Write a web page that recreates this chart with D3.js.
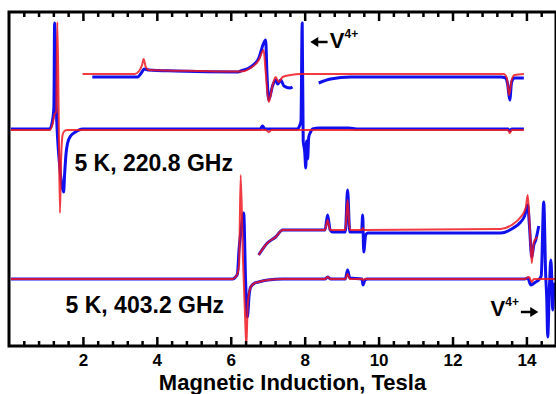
<!DOCTYPE html>
<html>
<head>
<meta charset="utf-8">
<script src="https://cdn.jsdelivr.net/npm/d3@7"></script>
<style>
html, body { margin: 0; padding: 0; background: #fff; }
svg { display: block; font-family: "Liberation Sans", Arial, sans-serif; font-weight: bold; }
</style>
</head>
<body>
<div id="chart"></div>
<script>
// field in Tesla, signal in arbitrary units relative to the trace baseline
// null signal = gap in the trace

// 220.8 GHz, full scale
const exp220Base = [[0.05,0],[1.10,0],[1.17,7],[1.215,22],[1.234,106],[1.28,20],[1.316,-10],[1.367,-35],[1.424,-55],[1.478,-63],[1.505,-45],[1.545,-24],[1.586,-14],[1.667,-7],[1.80,-3],[1.99,0],[6.80,0],[6.86,3],[6.92,0],[7.80,0],[7.86,3],[7.90,8],[7.933,106],[7.96,-12],[8.0,-22],[8.03,-39],[8.05,-12],[8.08,-30],[8.11,-8],[8.16,-3],[8.21,0],[8.40,1],[9.20,1],[9.40,0],[13.50,0],[13.55,-2],[13.60,0],[13.93,0]];
const sim220Base = [[0.05,-1],[1.10,-1],[1.18,5],[1.234,15],[1.276,17],[1.307,107],[1.343,20],[1.378,-84],[1.41,-30],[1.45,-6],[1.50,-2],[1.58,-1],[6.95,-1],[7.03,-3],[7.10,-1],[13.50,-1],[13.55,-4],[13.60,-1],[13.93,-1]];

// 220.8 GHz, expanded
const exp220Zoom = [[2.254,-3],[3.30,-3],[3.48,-3],[3.58,1],[3.66,5],[3.78,4],[4.5,3],[6.2,2],[6.27,3],[6.54,7],[6.76,16],[6.88,30],[6.944,34],[6.98,0],[7.026,-26],[7.13,-12],[7.215,-6],[7.27,-10],[7.35,-6],[7.44,-12],[7.60,-14],[7.67,-13],[7.9,null],[8.38,-9],[8.70,-5],[9.245,-3],[13.30,-3],[13.44,-4],[13.49,-10],[13.548,-26],[13.60,-8],[13.68,-4],[13.93,-4]];
const sim220Zoom = [[1.99,0],[3.40,0],[3.52,3],[3.60,9],[3.643,15],[3.70,7],[3.78,4],[5.19,3],[6.27,2.5],[6.54,6],[6.76,14],[6.89,24],[6.94,4],[7.026,-28],[7.134,-11],[7.215,-3],[7.296,-8],[7.405,-3],[7.62,-1],[7.89,0],[13.385,0],[13.47,-4],[13.53,-21],[13.60,-6],[13.68,-1],[13.93,0]];

// 403.2 GHz, full scale
const exp403Base = [[0.05,0],[6.05,0],[6.13,2],[6.18,5],[6.225,30],[6.27,46],[6.35,66],[6.40,0],[6.449,-38],[6.50,-15],[6.539,-8],[6.65,-4],[6.755,-3],[7.0,-1],[7.40,0],[8.55,0],[8.62,2],[8.70,0],[9.10,0],[9.161,9],[9.22,1],[9.55,0],[9.58,-6],[9.63,-1],[9.70,0],[13.95,0],[14.035,1],[14.12,-6],[14.25,-3],[14.33,-1],[14.40,3],[14.468,77],[14.52,5],[14.55,-20],[14.576,-58],[14.62,-10],[14.66,19],[14.69,-5],[14.71,-31],[14.75,-5],[14.79,-15]];
const sim403Base = [[0.05,0],[6.05,0],[6.13,2],[6.18,5],[6.225,14],[6.268,104],[6.33,20],[6.39,-40],[6.422,-67],[6.46,-25],[6.539,-8],[6.65,-4],[6.755,-3],[7.0,-1],[7.40,0],[8.55,0],[8.62,2],[8.70,0],[9.10,0],[9.161,5],[9.22,0],[9.55,0],[9.58,-1],[9.63,0],[13.95,0],[14.07,2],[14.144,-3],[14.20,0],[14.79,0]];

// 403.2 GHz, expanded
const exp403Zoom = [[6.755,-25],[6.99,-13],[7.215,-7],[7.405,0],[8.487,0],[8.55,0],[8.62,15],[8.69,0],[8.755,-2],[9.10,-2],[9.161,40],[9.22,-2],[9.54,-2],[9.570,15],[9.597,-22],[9.65,-5],[9.705,-3],[13.30,-3],[13.60,1],[13.845,8],[13.95,14],[14.035,25],[14.08,5],[14.144,-27],[14.20,-15],[14.252,-10],[14.333,4]];
const sim403Zoom = [[6.755,-25],[6.99,-13],[7.215,-7],[7.405,0],[8.487,0],[8.55,0],[8.62,10],[8.69,0],[9.10,0],[9.161,30],[9.22,0],[9.55,0],[9.57,2],[9.60,0],[13.30,1],[13.60,5],[13.845,13],[13.98,22],[14.035,35],[14.10,-5],[14.144,-33],[14.20,-12],[14.30,-7]];

// vertical offsets of the four traces
const offsetNames = ['base220', 'zoom220', 'base403', 'zoom403'];
const offsetValues = [217, 272, 67, 116];

const majorTicks = [2, 4, 6, 8, 10, 12, 14];
const minorStep = 0.4;

const width = 556, height = 394;
const plotLeft = 9, plotRight = 556, plotTop = 12, plotBottom = 346;

const svg = d3.select('#chart').append('svg')
    .attr('width', width)
    .attr('height', height);

const x = d3.scaleLinear().domain([0, 14.8]).range([plotLeft, plotRight]);
const y = d3.scaleLinear().domain([0, 334]).range([plotBottom, plotTop]);

const offset = name => offsetValues[offsetNames.indexOf(name)];

svg.append('clipPath').attr('id', 'plot')
    .append('rect')
    .attr('x', plotLeft).attr('y', plotTop)
    .attr('width', plotRight - plotLeft).attr('height', plotBottom - plotTop);

const plot = svg.append('g').attr('clip-path', 'url(#plot)');

function drawTrace(data, name, color, w, op) {
    const off = offset(name);
    const line = d3.line()
        .defined(d => d[1] !== null)
        .x(d => x(d[0]))
        .y(d => y(off + d[1]))
        .curve(d3.curveMonotoneX);
    plot.append('path')
        .datum(data)
        .attr('d', line)
        .attr('fill', 'none')
        .attr('stroke', color)
        .attr('stroke-width', w)
        .attr('stroke-opacity', op)
        .attr('stroke-linejoin', 'round');
}

const blue = '#1010ee', red = '#ee1820';
drawTrace(exp220Base, 'base220', blue, 3, 1);
drawTrace(sim220Base, 'base220', red, 2, 0.85);
drawTrace(exp220Zoom, 'zoom220', blue, 3, 1);
drawTrace(sim220Zoom, 'zoom220', red, 2, 0.85);
drawTrace(exp403Base, 'base403', blue, 3, 1);
drawTrace(sim403Base, 'base403', red, 2, 0.85);
drawTrace(exp403Zoom, 'zoom403', blue, 3, 1);
drawTrace(sim403Zoom, 'zoom403', red, 2, 0.85);

// minor ticks
const minorTicks = d3.range(minorStep, 14.8, minorStep)
    .filter(v => !majorTicks.some(m => Math.abs(m - v) < 1e-6));

function tickAxis(axisFn, ypos, values, size, labels) {
    const g = svg.append('g')
        .attr('transform', 'translate(0,' + ypos + ')')
        .call(axisFn(x).tickValues(values).tickSize(size).tickPadding(8)
            .tickFormat(labels ? d3.format('d') : ''));
    g.select('.domain').remove();
    g.selectAll('line').attr('stroke', '#000').attr('stroke-width', 2.5);
    g.selectAll('text')
        .attr('font-family', '"Liberation Sans", Arial, sans-serif')
        .attr('font-weight', 'bold')
        .attr('font-size', 17)
        .attr('fill', '#000');
    return g;
}

tickAxis(d3.axisBottom, plotBottom, minorTicks, -5, false);
tickAxis(d3.axisBottom, plotBottom, majorTicks, -9, true);
tickAxis(d3.axisTop, plotTop, minorTicks, -5, false);
tickAxis(d3.axisTop, plotTop, majorTicks, -9, false);

// frame
svg.append('rect')
    .attr('x', plotLeft).attr('y', plotTop)
    .attr('width', plotRight - plotLeft).attr('height', plotBottom - plotTop)
    .attr('fill', 'none')
    .attr('stroke', '#000')
    .attr('stroke-width', 3);

// labels
svg.append('text')
    .attr('x', (plotLeft + plotRight) / 2 + 10)
    .attr('y', 390)
    .attr('text-anchor', 'middle')
    .attr('font-size', 22)
    .text('Magnetic Induction, Tesla');

svg.append('text')
    .attr('x', x(1.77)).attr('y', y(175))
    .attr('font-size', 23)
    .text('5 K, 220.8 GHz');

svg.append('text')
    .attr('x', x(1.53)).attr('y', y(33))
    .attr('font-size', 23)
    .text('5 K, 403.2 GHz');

// V4+ annotations
function vLabel(bx, vy) {
    const t = svg.append('text')
        .attr('x', x(bx)).attr('y', y(vy))
        .attr('font-size', 22);
    t.append('tspan').text('V');
    t.append('tspan').attr('font-size', 12).attr('dy', -10).text('4+');
}

function arrow(b0, b1, vy) {
    const x0 = x(b0), x1 = x(b1), yy = y(vy);
    const dir = Math.sign(x1 - x0);
    svg.append('line')
        .attr('x1', x0).attr('y1', yy)
        .attr('x2', x1 - dir * 5).attr('y2', yy)
        .attr('stroke', '#000').attr('stroke-width', 2.5);
    svg.append('path')
        .attr('d', d3.line()([[x1, yy], [x1 - dir * 8, yy - 5], [x1 - dir * 8, yy + 5]]) + 'Z')
        .attr('fill', '#000');
}

vLabel(8.68, 298);
arrow(8.62, 8.15, 304);
vLabel(13.03, 30);
arrow(13.85, 14.32, 34);
</script>
</body>
</html>
